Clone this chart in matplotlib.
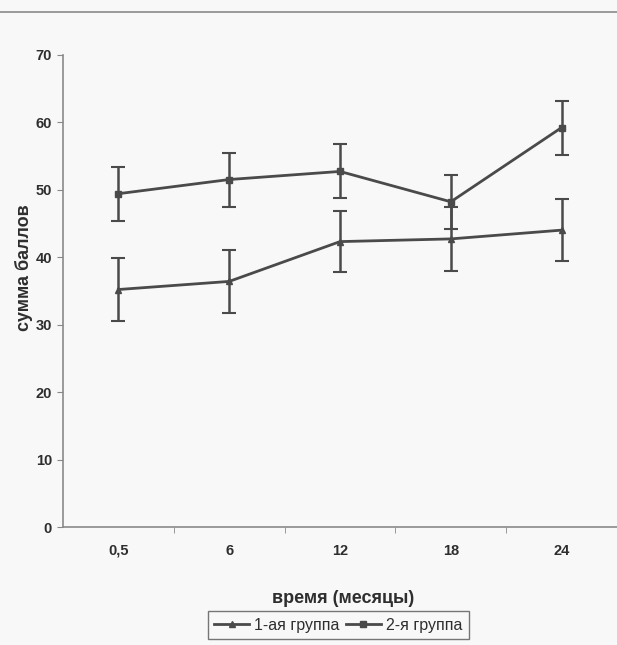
import matplotlib
matplotlib.use("Agg")
import matplotlib.pyplot as plt
from matplotlib.lines import Line2D

plt.rcParams['font.family'] = ['Liberation Sans', 'DejaVu Sans']

months = ['0,5', '6', '12', '18', '24']
group1 = [35.2, 36.4, 42.3, 42.7, 44.0]
group1_err = [4.6, 4.7, 4.5, 4.7, 4.6]
group2 = [49.4, 51.5, 52.7, 48.2, 59.2]
group2_err = [4.0, 4.0, 4.0, 4.0, 4.0]
series_names = ['1-ая группа', '2-я группа']
yticks = [0, 10, 20, 30, 40, 50, 60, 70]

bg = '#f8f8f8'
ink = '#4a4a4a'
txt = '#2e2e2e'
narrow = ['Liberation Sans Narrow', 'Liberation Sans']

fig = plt.figure(figsize=(6.17, 6.45), dpi=100, facecolor=bg)
ax = fig.add_axes([0.1021, 0.1829, 0.8979, 0.7323])
ax.set_facecolor(bg)

x = list(range(len(months)))
ax.errorbar(x, group1, yerr=group1_err, color=ink, lw=2, marker='^', ms=5,
            capsize=5, capthick=1.5, elinewidth=1.8, zorder=3)
ax.errorbar(x, group2, yerr=group2_err, color=ink, lw=2, marker='s', ms=5,
            capsize=5, capthick=1.5, elinewidth=1.8, zorder=3)

ax.set_xlim(-0.5, 4.5)
ax.set_ylim(0, 70)
ax.set_yticks(yticks)
ax.set_yticklabels([str(v) for v in yticks], fontsize=10.5, color=txt, fontweight='bold',
                   family=narrow)
ax.set_xticks(x)
ax.set_xticklabels(months, fontsize=10.5, color=txt, fontweight='bold', family=narrow)
ax.set_xticks([i + 0.5 for i in range(len(months) - 1)], minor=True)
ax.tick_params(axis='x', which='major', length=0, pad=12)
ax.tick_params(axis='x', which='minor', length=4, color='#888888', direction='out')
ax.tick_params(axis='y', length=4, color='#888888', direction='out', pad=4)

for side in ['top', 'right']:
    ax.spines[side].set_visible(False)
for side in ['left', 'bottom']:
    ax.spines[side].set_color('#8a8a8a')
    ax.spines[side].set_linewidth(1.2)

ax.set_ylabel('сумма баллов', fontsize=13, fontweight='bold', color=txt)
ax.yaxis.set_label_coords(-0.055, 0.55)
ax.set_xlabel('время (месяцы)', fontsize=13, fontweight='bold', color=txt)
ax.xaxis.set_label_coords(0.505, -0.133)

# thin rule across the top of the scanned page
fig.add_artist(Line2D([0, 1], [0.982, 0.982], transform=fig.transFigure,
                      color='#8a8a8a', lw=1.2))

handles = [Line2D([], [], color=ink, lw=2, marker='^', ms=5),
           Line2D([], [], color=ink, lw=2, marker='s', ms=4)]
leg = fig.legend(handles, series_names, loc='center', bbox_to_anchor=(0.548, 0.031),
                 ncol=2, frameon=True, fancybox=False,
                 handlelength=2.2, handletextpad=0.3, columnspacing=0.4,
                 borderpad=0.4, prop={'family': narrow, 'size': 11.5})
leg.get_frame().set_edgecolor('#555555')
leg.get_frame().set_facecolor(bg)
leg.get_frame().set_linewidth(1.0)
for t in leg.get_texts():
    t.set_color(txt)

fig.savefig('out.png', dpi=100, facecolor=bg)
